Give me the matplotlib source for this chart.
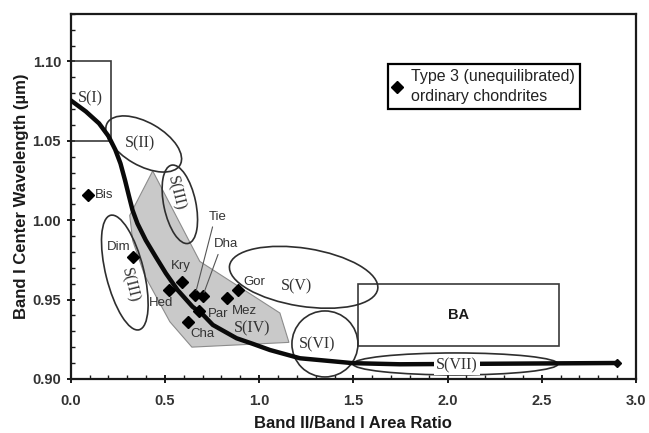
import matplotlib

matplotlib.use("Agg")
import matplotlib.pyplot as plt
from matplotlib import transforms
from matplotlib.lines import Line2D
from matplotlib.patches import Ellipse, Polygon, Rectangle
from matplotlib.ticker import FormatStrFormatter, MultipleLocator

plt.rcParams["font.family"] = ["Liberation Sans", "DejaVu Sans"]

# Type 3 (unequilibrated) ordinary chondrites
names = ["Bis", "Dim", "Hed", "Kry", "Tie", "Dha", "Par", "Cha", "Mez", "Gor"]
area_ratio = [0.09, 0.33, 0.52, 0.59, 0.66, 0.70, 0.68, 0.62, 0.83, 0.89]
band_center = [1.016, 0.977, 0.956, 0.961, 0.953, 0.952, 0.943, 0.936, 0.951, 0.956]

# olivine-orthopyroxene mixing line
curve_ratio = [0.0, 0.080, 0.150, 0.200, 0.236, 0.264, 0.288, 0.310, 0.328, 0.354,
               0.398, 0.451, 0.505, 0.567, 0.646, 0.703, 0.754, 0.880, 0.968,
               1.057, 1.216, 1.498, 1.747, 2.90]
curve_center = [1.0755, 1.0685, 1.0610, 1.0530, 1.0445, 1.0357, 1.0252, 1.0147,
                 1.0063, 0.9979, 0.9874, 0.9769, 0.9665, 0.956, 0.9455, 0.9403,
                 0.934, 0.9256, 0.922, 0.9182, 0.913, 0.9099, 0.9092, 0.910]

# S-type subclass fields: centre in data units, size in pixels, tilt in degrees
field_names = ["S(II)", "S(III)", "S(III)", "S(V)", "S(VI)", "S(VII)"]
field_x = [0.387, 0.579, 0.287, 1.236, 1.349, 2.042]
field_y = [1.048, 1.010, 0.967, 0.964, 0.922, 0.9094]
field_w = [84, 80, 118, 150, 66, 205]
field_h = [43, 32, 38, 58, 66, 22]
field_angle = [-30, -78, -76, -9, 0, 0]

# S(IV) zone (shaded)
s4_ratio = [0.435, 0.313, 0.329, 0.393, 0.526, 0.643, 1.158, 1.110, 0.685]
s4_center = [1.031, 1.003, 0.987, 0.965, 0.936, 0.920, 0.923, 0.9415, 0.974]

# S(I) and basaltic achondrite boxes: x0, x1, y0, y1
s1_box = [0.0, 0.215, 1.05, 1.10]
ba_box = [1.525, 2.593, 0.921, 0.960]

text_labels = ["S(I)", "S(II)", "S(III)", "S(III)", "S(IV)", "S(V)", "S(VI)", "S(VII)"]
text_x = [0.104, 0.366, 0.558, 0.313, 0.960, 1.199, 1.305, 2.048]
text_y = [1.0767, 1.0482, 1.017, 0.959, 0.932, 0.958, 0.922, 0.9088]
text_rot = [0, 0, -76, -76, 0, 0, 0, 0]

label_offsets = {
    "Bis": (7, 0, "left"),
    "Dim": (-14, 10, "center"),
    "Hed": (-8, -13, "center"),
    "Kry": (-1, 16, "center"),
    "Par": (9, -3, "left"),
    "Cha": (15, -12, "center"),
    "Mez": (17, -13, "center"),
    "Gor": (16, 8, "center"),
}
leader_offsets = {"Tie": (23, 78), "Dha": (23, 52)}

ink = "#1a1a1a"
edge = "#2e2e2e"
soft = "#333333"

fig = plt.figure(figsize=(6.49, 4.33), dpi=100)
ax = fig.add_axes([0.109, 0.125, 0.871, 0.843])
ax.set_xlim(0, 3.0)
ax.set_ylim(0.90, 1.13)

ax.add_patch(Polygon(list(zip(s4_ratio, s4_center)), closed=True,
                     facecolor="#c9c9c9", edgecolor="#8c8c8c", lw=0.8, zorder=1))

for x0, x1, y0, y1 in (s1_box, ba_box):
    ax.add_patch(Rectangle((x0, y0), x1 - x0, y1 - y0, fill=False,
                           edgecolor="#3a3a3a", lw=1.2, zorder=2))

for cx, cy, w, h, ang in zip(field_x, field_y, field_w, field_h, field_angle):
    trans = fig.dpi_scale_trans + transforms.ScaledTranslation(cx, cy, ax.transData)
    ax.add_patch(Ellipse((0, 0), w / 100, h / 100, angle=ang, fill=False,
                         edgecolor=edge, lw=1.2, transform=trans, zorder=3))

ax.plot(curve_ratio, curve_center, color="#0a0a0a", lw=3.2,
        solid_capstyle="round", solid_joinstyle="round", zorder=4)
ax.plot(curve_ratio[-1:], curve_center[-1:], marker="D", ms=4, color="#0a0a0a", zorder=4)

for lab, x, y, rot in zip(text_labels, text_x, text_y, text_rot):
    box = None
    if lab == "S(VII)":
        box = dict(facecolor="white", edgecolor="none", pad=1.5)
    ax.text(x, y, lab, family=["Liberation Serif", "DejaVu Serif"], fontsize=11.5,
            color=soft, ha="center", va="center", rotation=rot,
            bbox=box, zorder=6)

ax.text((ba_box[0] + ba_box[1]) / 2, 0.9405, "BA", fontsize=10.5, fontweight="bold",
        color=ink, ha="center", va="center", zorder=6)

ax.plot(area_ratio, band_center, ls="none", marker="D", ms=6, color="black", zorder=7)

for name, x, y in zip(names, area_ratio, band_center):
    if name in label_offsets:
        dx, dy, ha = label_offsets[name]
        ax.annotate(name, (x, y), xytext=(dx, dy), textcoords="offset pixels",
                    ha=ha, va="center", fontsize=9.5, color=soft, zorder=8)
    else:
        dx, dy = leader_offsets[name]
        ax.annotate(name, (x, y), xytext=(dx, dy), textcoords="offset pixels",
                    ha="center", va="center", fontsize=9.5, color=soft, zorder=8,
                    arrowprops=dict(arrowstyle="-", color="#555555", lw=0.8,
                                    shrinkA=1, shrinkB=3, relpos=(0.25, 0.0)))

handle = Line2D([], [], ls="none", marker="D", ms=6.5, color="black")
leg = ax.legend([handle], ["Type 3 (unequilibrated)\nordinary chondrites"],
                loc="upper left", bbox_to_anchor=(0.561, 0.862), borderaxespad=0,
                fancybox=False, framealpha=1, fontsize=11.5, handlelength=0.6,
                handletextpad=0.55, borderpad=0.3)
leg.get_frame().set_edgecolor("black")
leg.get_frame().set_linewidth(1.6)
for t in leg.get_texts():
    t.set_color("#222222")
    t.set_linespacing(1.45)

ax.xaxis.set_major_locator(MultipleLocator(0.5))
ax.xaxis.set_minor_locator(MultipleLocator(0.1))
ax.yaxis.set_major_locator(MultipleLocator(0.05))
ax.yaxis.set_minor_locator(MultipleLocator(0.01))
ax.xaxis.set_major_formatter(FormatStrFormatter("%.1f"))
ax.yaxis.set_major_formatter(FormatStrFormatter("%.2f"))
ax.set_yticks([0.90, 0.95, 1.00, 1.05, 1.10])
ax.tick_params(which="major", direction="inout", length=6, width=1.4, color=ink,
               labelsize=10.5, labelcolor=soft)
ax.tick_params(axis="x", which="major", pad=8)
ax.tick_params(axis="y", which="major", pad=4)
ax.tick_params(which="minor", direction="in", length=3, width=1.0, color=ink)
for lbl in ax.get_xticklabels() + ax.get_yticklabels():
    lbl.set_fontweight("bold")
for sp in ax.spines.values():
    sp.set_linewidth(1.6)
    sp.set_color(ink)

ax.set_xlabel("Band II/Band I Area Ratio", fontsize=12, fontweight="bold", color=ink,
              labelpad=6)
ax.set_ylabel("Band I Center Wavelength (\u00b5m)", fontsize=12, fontweight="bold",
              color=ink, labelpad=2)

fig.savefig("out.png", dpi=100)
